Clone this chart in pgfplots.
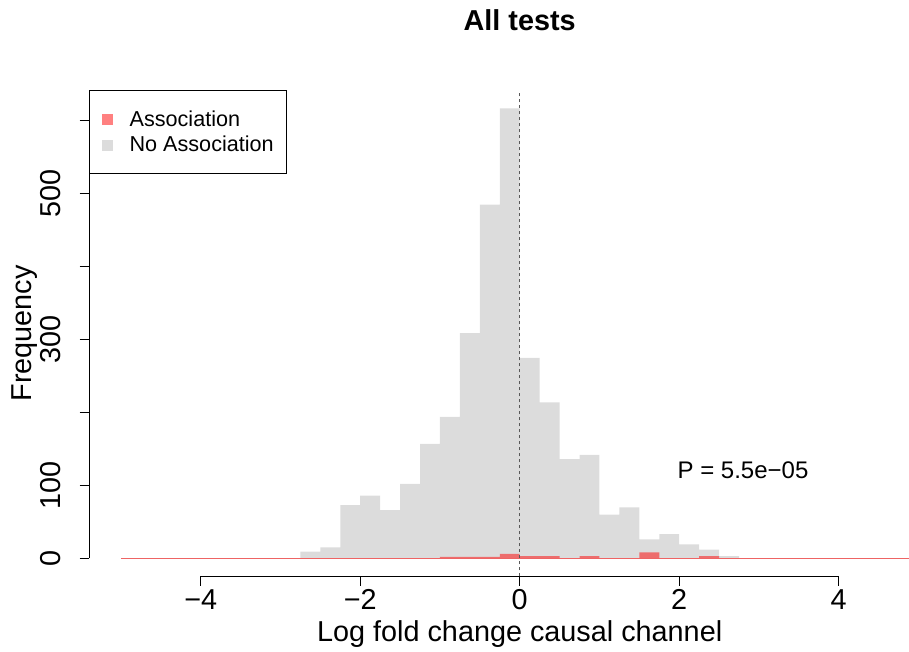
\documentclass[border=0pt]{standalone}
\usepackage{pgfplots}
\pgfplotsset{compat=1.18}
\usepackage{fontspec}
\setmainfont{Liberation Sans}
\definecolor{histgray}{RGB}{220,220,220}
\definecolor{legred}{RGB}{255,128,128}
\definecolor{zeroline}{RGB}{238,100,100}
\begin{document}
\begin{tikzpicture}
\useasboundingbox (0pt,0pt) rectangle (909pt,652pt);
\begin{axis}[
  at={(89.05pt,75.7pt)}, anchor=south west,
  scale only axis, width=861.3pt, height=485.8pt,
  xmin=-5.4, xmax=5.4, ymin=-24.68, ymax=641.68,
  clip=false,
  axis x line*=bottom, axis y line*=left,
  axis line style={draw=none},
  tick align=outside, major tick length=9.3pt,
  tick style={black, line width=0.8pt},
  xtick={-4,-2,0,2,4}, xticklabels={−4,−2,0,2,4},
  ytick={0,100,200,300,400,500,600}, yticklabels={0,100,,300,,500,},
  xticklabel style={anchor=base, inner sep=0pt, yshift=-24.2pt, font=\fontsize{28.8}{34}\selectfont},
  yticklabel style={xshift=-19.7pt, rotate=90, anchor=base, inner sep=0pt, font=\fontsize{28.8}{34}\selectfont},
  title={All tests},
  title style={at={(axis description cs:0.5,1)}, anchor=base, yshift=53.5pt, inner sep=0pt, font=\bfseries\fontsize{28.8}{34}\selectfont},
  xlabel={Log fold change causal channel},
  xlabel style={at={(axis description cs:0.5,0)}, anchor=base, yshift=-65.4pt, inner sep=0pt, font=\fontsize{28.8}{34}\selectfont},
  every axis y label/.style={at={([xshift=-57.3pt]axis description cs:0,0.5)}, rotate=90, anchor=base, inner sep=0pt, font=\fontsize{28.8}{34}\selectfont},
  ylabel={Frequency},
  legend style={at={(0,1)}, anchor=north west, draw=black, line width=0.8pt, fill=white,
    inner xsep=12.7pt, inner ysep=19.7pt, row sep=8.6pt, column sep=16.7pt,
    font=\fontsize{21.6}{26}\selectfont, nodes={inner sep=0pt}},
  legend cell align=left,
]
\addlegendimage{legend image code/.code={\fill[legred] (0pt,-5pt) rectangle (10pt,5pt);}}
\addlegendentry{Association}
\addlegendimage{legend image code/.code={\fill[histgray] (0pt,-5pt) rectangle (10pt,5pt);}}
\addlegendentry{No Association}

% No association histogram (bin width 0.25)
\addplot[ybar interval, fill=histgray, draw=none, forget plot] coordinates {
(-2.75,9) (-2.5,15) (-2.25,73) (-2.0,86) (-1.75,66) (-1.5,102) (-1.25,157)
(-1.0,194) (-0.75,309) (-0.5,485) (-0.25,617) (0,275) (0.25,214) (0.5,136)
(0.75,142) (1.0,60) (1.25,70) (1.5,26) (1.75,33) (2.0,19) (2.25,12) (2.5,3) (2.75,0)
};
% Association histogram
\addplot[ybar interval, fill=red, fill opacity=0.5, draw=none, forget plot] coordinates {
(-1.0,2) (-0.75,2) (-0.5,2) (-0.25,6) (0,3) (0.25,3) (0.5,0) (0.75,3) (1.0,0)
(1.25,0) (1.5,8) (1.75,0) (2.0,0) (2.25,3) (2.5,0)
};
% zero-height association bins across the range
\addplot[zeroline, line width=0.9pt, forget plot] coordinates {(-5,0) (5,0)};
% reference line at zero
\addplot[black!65, line width=1.1pt, dash pattern=on 3pt off 3pt, forget plot] coordinates {(0,-24.68) (0,641.68)};
% axis lines
\addplot[black, line width=0.8pt, forget plot] coordinates {(-4,-24.68) (4,-24.68)};
\addplot[black, line width=0.8pt, forget plot] coordinates {(-5.4,0) (-5.4,600)};
\node[anchor=base, inner sep=0pt, font=\fontsize{24}{29}\selectfont] at (axis cs:2.80,108.8) {P = 5.5e−05};
\end{axis}
\end{tikzpicture}
\end{document}
